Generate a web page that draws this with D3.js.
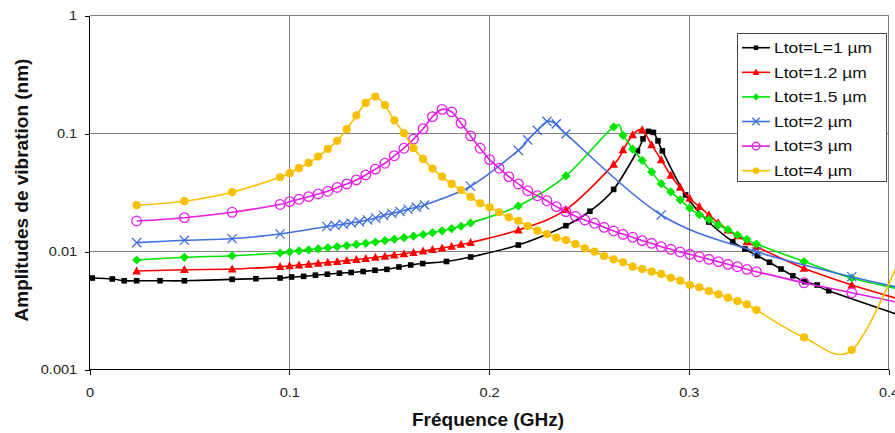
<!DOCTYPE html>
<html><head><meta charset="utf-8">
<script src="https://cdn.jsdelivr.net/npm/d3@7"></script>
<style>
body{margin:0;background:#fff;}
svg{display:block;font-family:"Liberation Sans",Arial,sans-serif;}
</style></head><body>
<svg id="chart" width="895" height="433"></svg>
<script>
// ---------------- DATA ----------------
const seriesNames = ["Ltot=L=1 µm","Ltot=1.2 µm","Ltot=1.5 µm","Ltot=2 µm","Ltot=3 µm","Ltot=4 µm"];
const xTickValues = [0, 0.1, 0.2, 0.3, 0.4];
const xTickLabels = ["0","0.1","0.2","0.3","0.4"];
const yTickValues = [0.001, 0.01, 0.1, 1];
const yTickLabels = ["0.001","0.01","0.1","1"];
const xTitle = "Fréquence (GHz)";
const yTitle = "Amplitudes de vibration (nm)";

// frequencies (GHz)
const freqL1 = [0.0014,0.0114,0.0174,0.0236,0.0353,0.0475,0.0714,0.0833,0.0954,0.1012,0.1072,0.1131,0.1191,0.1251,0.1310,0.1370,0.1429,0.1489,0.1549,0.1608,0.1668,0.1787,0.1908,0.2147,0.2385,0.2505,0.2624,0.2743,0.2771,0.2798,0.2823,0.2846,0.2868,0.2984,0.3100,0.3220,0.3281,0.3343,0.3404,0.3462,0.3521,0.3581,0.3643,0.3701,0.4055];
const freqL12_L15 = [0.0236,0.0475,0.0714,0.0954,0.1002,0.1049,0.1097,0.1145,0.1193,0.1240,0.1288,0.1336,0.1383,0.1431,0.1479,0.1526,0.1574,0.1622,0.1670,0.1717,0.1765,0.1813,0.1860,0.1908,0.2147,0.2385,0.2624,0.2671,0.2719,0.2767,0.2814,0.2862,0.2910,0.2957,0.3005,0.3053,0.3101,0.3148,0.3196,0.3244,0.3291,0.3339,0.3577,0.3816,0.4054];
const freqL2 = [0.0236,0.0475,0.0714,0.0954,0.1188,0.1229,0.1270,0.1310,0.1351,0.1392,0.1433,0.1473,0.1514,0.1555,0.1595,0.1636,0.1677,0.1908,0.2147,0.2194,0.2242,0.2290,0.2337,0.2385,0.2862,0.3339,0.3816,0.4054];
const freqL3_L4 = [0.0236,0.0475,0.0714,0.0954,0.1002,0.1049,0.1097,0.1145,0.1193,0.1240,0.1288,0.1336,0.1383,0.1431,0.1479,0.1526,0.1574,0.1622,0.1670,0.1717,0.1765,0.1813,0.1860,0.1908,0.1956,0.2003,0.2051,0.2099,0.2147,0.2194,0.2242,0.2290,0.2337,0.2385,0.2433,0.2480,0.2528,0.2576,0.2624,0.2671,0.2719,0.2767,0.2814,0.2862,0.2910,0.2957,0.3005,0.3053,0.3101,0.3148,0.3196,0.3244,0.3291,0.3339,0.3577,0.3816,0.4054];

// amplitudes (nm)
const ampL1 = [0.00596,0.00585,0.00565,0.00565,0.00565,0.00565,0.00581,0.00588,0.00596,0.00608,0.00616,0.0063,0.00642,0.00655,0.00664,0.00677,0.00693,0.00706,0.00739,0.00768,0.00791,0.00823,0.00898,0.01135,0.01655,0.02193,0.03357,0.0712,0.09,0.1042,0.1022,0.0866,0.0712,0.03015,0.01779,0.0121,0.0105,0.00921,0.0081,0.0071,0.00623,0.00554,0.0052,0.00465,0.00289];
const ampL12 = [0.00683,0.00701,0.0071,0.00743,0.00756,0.00768,0.0078,0.00794,0.00808,0.00823,0.00839,0.00855,0.00872,0.0089,0.00911,0.00934,0.00956,0.00981,0.0101,0.0104,0.01071,0.01107,0.01147,0.01192,0.01522,0.02262,0.05468,0.07262,0.0973,0.1073,0.08006,0.05971,0.04411,0.0349,0.02815,0.02399,0.0204,0.01745,0.01522,0.01354,0.0121,0.01098,0.0072,0.0052,0.00395];
const ampL15 = [0.00847,0.00893,0.00921,0.00971,0.00994,0.01014,0.01034,0.01054,0.01075,0.01098,0.01122,0.01147,0.01174,0.01204,0.01237,0.01272,0.01309,0.01348,0.01393,0.01443,0.01497,0.01561,0.01636,0.01745,0.02431,0.04369,0.1138,0.09636,0.07374,0.05912,0.04723,0.03759,0.03197,0.02734,0.02325,0.02051,0.01868,0.01678,0.0153,0.0138,0.01269,0.01158,0.00823,0.00596,0.00481];
const ampL2 = [0.01188,0.01245,0.01284,0.01407,0.01629,0.01668,0.01704,0.01745,0.01793,0.0185,0.01924,0.0202,0.02101,0.02185,0.0228,0.02375,0.02479,0.03573,0.07191,0.08826,0.1062,0.1266,0.1206,0.09922,0.0204,0.00996,0.00611,0.00495];
const ampL3 = [0.01814,0.01935,0.0215,0.02503,0.02644,0.02771,0.02916,0.03074,0.0324,0.0349,0.03737,0.04041,0.04455,0.04989,0.05598,0.06482,0.07502,0.08962,0.1098,0.1391,0.1601,0.1525,0.1223,0.0954,0.0750,0.06006,0.05078,0.04311,0.03737,0.03272,0.02969,0.02692,0.02399,0.02176,0.01988,0.0185,0.01735,0.01604,0.01492,0.01399,0.0132,0.01235,0.01174,0.01098,0.01044,0.0099,0.00947,0.00903,0.00859,0.0082,0.00779,0.00743,0.00706,0.00674,0.00544,0.00447,0.00369];
const ampL4 = [0.0247,0.0267,0.0318,0.0426,0.0461,0.0508,0.0563,0.0637,0.0740,0.0866,0.1088,0.1424,0.1817,0.2056,0.1738,0.1292,0.1006,0.0750,0.0609,0.0504,0.0431,0.0374,0.0332,0.0290,0.0256,0.0237,0.0215,0.0195,0.0182,0.01645,0.0150,0.01407,0.01309,0.01252,0.01158,0.01064,0.00996,0.00916,0.00859,0.0081,0.00743,0.0071,0.00674,0.00645,0.00599,0.00566,0.0052,0.00497,0.00462,0.00434,0.00406,0.0038,0.00357,0.00319,0.00187,0.00146,0.0085];

// ---------------- STYLE ----------------
const seriesStyle = [
  {color:"#000000", marker:"square"},
  {color:"#FF0000", marker:"triangle"},
  {color:"#00E600", marker:"diamond"},
  {color:"#3F6FE0", marker:"cross"},
  {color:"#E61EE6", marker:"circleOpen"},
  {color:"#F8C000", marker:"circle"}
];
const seriesData = [
  [freqL1, ampL1],[freqL12_L15, ampL12],[freqL12_L15, ampL15],
  [freqL2, ampL2],[freqL3_L4, ampL3],[freqL3_L4, ampL4]
];

const svg = d3.select("#chart");
const P = {left:89.5, right:888.5, top:15.5, bottom:369.5};
const x = d3.scaleLinear().domain([0,0.4]).range([P.left,P.right]);
const y = d3.scaleLog().domain([0.001,1]).range([P.bottom,P.top]);

svg.append("rect").attr("width",895).attr("height",433).attr("fill","#fff");

// gridlines
const grid = svg.append("g").attr("stroke","#808080").attr("stroke-width",1).attr("shape-rendering","crispEdges");
[0.01,0.1].forEach(v=>grid.append("line").attr("x1",P.left).attr("x2",P.right).attr("y1",Math.round(y(v))+0.5).attr("y2",Math.round(y(v))+0.5));
[0.1,0.2,0.3].forEach(v=>grid.append("line").attr("y1",P.top).attr("y2",P.bottom).attr("x1",Math.round(x(v))+0.5).attr("x2",Math.round(x(v))+0.5));
// top/right border
grid.append("line").attr("x1",P.left).attr("x2",P.right).attr("y1",P.top).attr("y2",P.top);
grid.append("line").attr("x1",P.right).attr("x2",P.right).attr("y1",P.top).attr("y2",P.bottom);

// axes
const yAxis = d3.axisLeft(y).tickValues(yTickValues).tickFormat((d,i)=>yTickLabels[i]).tickSize(5).tickPadding(6);
const xAxis = d3.axisBottom(x).tickValues(xTickValues).tickFormat((d,i)=>xTickLabels[i]).tickSize(5).tickPadding(13);
const gy = svg.append("g").attr("transform",`translate(${P.left},0)`).call(yAxis);
const gx = svg.append("g").attr("transform",`translate(0,${P.bottom})`).call(xAxis);
[gx,gy].forEach(g=>{
  g.select(".domain").attr("stroke","#000").attr("shape-rendering","crispEdges");
  g.selectAll(".tick line").attr("stroke","#000").attr("shape-rendering","crispEdges");
  g.selectAll("text").attr("font-size",13).attr("fill","#222")
   .attr("font-family","'Liberation Sans',Arial,sans-serif").attr("transform","scale(1.12,1)");
});
gx.select(".domain").attr("d",`M${P.left},0H${P.right}`);
gy.select(".domain").attr("d",`M0,${P.top}V${P.bottom}`);

// titles
svg.append("text").attr("x",488).attr("y",426).attr("text-anchor","middle")
  .attr("font-size",19).attr("font-weight","bold").attr("fill","#111").text(xTitle);
svg.append("text").attr("transform","translate(28,190) rotate(-90)").attr("text-anchor","middle")
  .attr("font-size",19).attr("font-weight","bold").attr("fill","#111").text(yTitle);

// markers
function marker(g, type, color, cx, cy, s){
  s = s||1;
  if(type==="square"){
    g.append("rect").attr("x",cx-2.8*s).attr("y",cy-2.8*s).attr("width",5.6*s).attr("height",5.6*s).attr("fill",color);
  } else if(type==="triangle"){
    g.append("path").attr("d",`M${cx},${cy-4.6*s}L${cx+4.3*s},${cy+3.4*s}L${cx-4.3*s},${cy+3.4*s}Z`).attr("fill",color);
  } else if(type==="diamond"){
    g.append("path").attr("d",`M${cx},${cy-4.6*s}L${cx+4.6*s},${cy}L${cx},${cy+4.6*s}L${cx-4.6*s},${cy}Z`).attr("fill",color);
  } else if(type==="cross"){
    const r=4.6*s;
    g.append("path").attr("d",`M${cx-r},${cy-r}L${cx+r},${cy+r}M${cx-r},${cy+r}L${cx+r},${cy-r}`).attr("stroke",color).attr("stroke-width",1.3).attr("fill","none");
  } else if(type==="circleOpen"){
    g.append("circle").attr("cx",cx).attr("cy",cy).attr("r",4.8*s).attr("fill","none").attr("stroke",color).attr("stroke-width",1.3);
  } else if(type==="circle"){
    g.append("circle").attr("cx",cx).attr("cy",cy).attr("r",4.1*s).attr("fill",color);
  }
}

const line = d3.line().x(d=>x(d[0])).y(d=>y(d[1])).curve(d3.curveCatmullRom.alpha(0));
seriesData.forEach(([fx,fy],i)=>{
  const pts = fx.map((f,k)=>[f,fy[k]]);
  const st = seriesStyle[i];
  const g = svg.append("g");
  g.append("path").attr("d",line(pts)).attr("fill","none").attr("stroke",st.color).attr("stroke-width",1.6);
  pts.filter(p=>p[0]<=0.4).forEach(p=>marker(g, st.marker, st.color, x(p[0]), y(p[1])));
});

// legend
const lg = svg.append("g");
lg.append("rect").attr("x",737.5).attr("y",33.5).attr("width",149).attr("height",148)
  .attr("fill","#fff").attr("stroke","#444").attr("stroke-width",1);
seriesNames.forEach((name,i)=>{
  const cy = 47.7 + i*24.6;
  const st = seriesStyle[i];
  lg.append("line").attr("x1",742).attr("x2",770).attr("y1",cy).attr("y2",cy).attr("stroke",st.color).attr("stroke-width",1.6);
  marker(lg, st.marker, st.color, 756, cy, 0.8);
  lg.append("text").attr("transform",`translate(774,${cy+5.2}) scale(1.2,1)`)
    .attr("font-size",14.5).attr("fill","#111").text(name);
});
</script>
</body></html>
